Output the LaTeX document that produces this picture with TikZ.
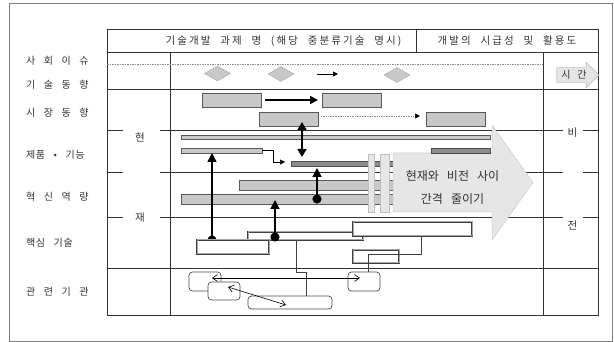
\documentclass[tikz,border=0pt]{standalone}
\usepackage{fontspec}
\setmainfont{Noto Sans CJK KR}[WordSpace=3]
\newfontfamily\hdfont{Noto Sans CJK KR}[WordSpace=2.2,LetterSpace=20]
\usepackage{tikz}
\usetikzlibrary{arrows.meta,positioning,shapes.geometric,shapes.arrows}
\definecolor{ink}{HTML}{333333}
\definecolor{barfill}{HTML}{C8C8C8}
\definecolor{bardark}{HTML}{8C8C8C}
\definecolor{arrfill}{HTML}{E6E6E6}
\pgfdeclarelayer{front}
\pgfsetlayers{main,front}

\begin{document}
\begin{tikzpicture}[x=1pt,y=-1pt,
    lbl/.style={anchor=west,text=ink,font=\fontsize{10}{12}\selectfont\addfontfeature{LetterSpace=6},inner sep=0},
    hdr/.style={text=ink,font=\fontsize{10.5}{12}\selectfont,inner sep=0},
    colhead/.style={hdr,font=\hdfont\fontsize{10.5}{12}\selectfont},
    rule/.style={draw=ink,line width=0.8pt},
    gbar/.style={draw=black!65,fill=barfill,line width=0.7pt,inner sep=0,outer sep=0},
    dbar/.style={gbar,fill=bardark,draw=black!70},
    core/.style={draw=black!75,double=black!35,double distance=1pt,line width=0.7pt,fill=white,inner sep=0,outer sep=0},
    inst/.style={draw=black!70,rounded corners=3.5pt,fill=white,line width=0.7pt,inner sep=0,outer sep=0},
    gem/.style={diamond,fill=barfill,draw=black!35,inner sep=0,minimum width=26pt,minimum height=15pt},
    arr/.style={-{Triangle[length=8pt,width=8pt]},line width=1.6pt},
    dotarr/.style={{Circle[length=9pt]}-{Triangle[length=9pt,width=9pt]},line width=1.6pt,shorten <=-4.5pt},
    lnk/.style={{Straight Barb[length=5pt,width=7pt]}-{Straight Barb[length=5pt,width=7pt]},line width=0.6pt},
    elb/.style={draw=black!75,line width=0.6pt}
]
\useasboundingbox (0,0) rectangle (614,342);

% frame and table
\draw[draw=black!50,line width=0.8pt] (9,3) rectangle (612,341);
\draw[rule] (107,29) rectangle (598,315);
\draw[rule] (107,52) -- (598,52);
\draw[rule] (416,29) -- (416,52);
\draw[rule] (170,52) -- (170,315);
\draw[rule] (543,52) -- (543,315);
\draw[draw=black!45,dash pattern=on 1.5pt off 1pt,line width=0.6pt] (107,64) -- (543,64);
\draw[rule] (107,89) -- (598,89);
\draw[rule] (107,268) -- (598,268);
\foreach \y in {130,172,217}
  \draw[rule] (107,\y) -- (123,\y) (160,\y) -- (563,\y) (583,\y) -- (598,\y);

\node[colhead] (head1) at (283.5,41) {기술개발 과제 명 (해당 중분류기술 명시)};
\node[colhead] (head2) at (507,41) {개발의 시급성 및 활용도};

\node[lbl] (issue) at (26,61) {사 회 이 슈};
\node[lbl] (trend) at (26,85) {기 술 동 향};
\node[lbl] (market) at (26,113) {시 장 동 향};
\node[lbl] (product) at (26,155) {제품 • 기능};
\node[lbl] (innov) at (26,197) {혁 신 역 량};
\node[lbl] (coretech) at (26,243) {핵심 기술};
\node[lbl] (org) at (26,292) {관 련 기 관};

\node[hdr] (hyeon) at (140,137) {현};
\node[hdr] (jae) at (140,218) {재};
\node[hdr] (bi) at (572.5,132.5) {비};
\node[hdr] (jeon) at (572.5,225) {전};

% technology trend
\node[gem] (d1) at (217.5,73.5) {};
\node[gem] (d2) at (281,74) {};
\node[gem] (d3) at (397,75) {};
\coordinate (t1) at (317,74);
\coordinate (t2) at (338,74);
\draw[-{Triangle[length=5pt,width=5pt]},line width=0.8pt] (t1) -- (t2);

\node[single arrow,draw=black!35,fill=black!10,minimum height=42pt,
      single arrow head extend=5pt,inner xsep=4pt,inner ysep=3pt,
      font=\fontsize{10}{12}\selectfont,text=ink] (time) at (574,75) {시 간};

% market
\node[gbar,minimum width=59pt,minimum height=14pt] (mA) at (231.5,100) {};
\node[gbar,minimum width=59pt,minimum height=14pt,right=61pt of mA] (mB) {};
\node[gbar,minimum width=59pt,minimum height=14pt] (mC) at (288.5,119) {};
\node[gbar,minimum width=59pt,minimum height=14pt] (mD) at (455.5,119) {};

% product / function
\node[gbar,minimum width=309pt,minimum height=4pt] (pLong) at (335.5,137) {};
\node[gbar,minimum width=81pt,minimum height=5pt] (pShort) at (221.5,150.5) {};
\node[dbar,minimum width=109pt,minimum height=5pt] (pE) at (345.5,163.5) {};

% innovation
\node[gbar,minimum width=161pt,minimum height=10pt] (iG) at (319.5,185) {};
\node[gbar,minimum width=219pt,minimum height=10pt] (iH) at (290.5,199) {};

% closing the gap
\draw[draw=black!25,fill=arrfill,line width=0.5pt] (368,154) rectangle (374,212);
\draw[draw=black!25,fill=arrfill,line width=0.5pt] (380,154) rectangle (389,212);
\draw[draw=black!20,fill=arrfill,line width=0.5pt]
  (393,153) -- (492,153) -- (492,125) -- (533,182.5) -- (492,240) -- (492,212) -- (393,212) -- cycle;
\node[dbar,minimum width=59pt,minimum height=5pt] (pF) at (460.5,150.5) {};
\node[font=\fontsize{12}{23}\selectfont,text=ink,align=center] (gap) at (452.5,187.5) {현재와 비전 사이\\간격 줄이기};

% core technology
\begin{pgfonlayer}{front}
\node[core,minimum width=72pt,minimum height=14pt] (K1) at (233,247) {};
\end{pgfonlayer}
\node[core,minimum width=115pt,minimum height=8pt] (K2) at (305.5,236) {};
\node[core,minimum width=119pt,minimum height=14pt] (K3) at (412.5,229) {};
\node[core,minimum width=46pt,minimum height=13pt] (K4) at (376,256.5) {};

% related organisations
\node[inst,minimum width=32pt,minimum height=19pt] (L1) at (205,281.5) {};
\node[inst,minimum width=32pt,minimum height=18pt] (L2) at (224,291) {};
\node[inst,minimum width=84pt,minimum height=13pt] (L3) at (290,302.5) {};
\node[inst,minimum width=32pt,minimum height=19pt] (L4) at (364,281.5) {};

\draw[elb] ([xshift=-9.5pt]K2.south) -- ++(0,32) -| ([xshift=16pt]L3.north);
\draw[elb] ([xshift=8.5pt]K3.south) -- ++(0,18) -| ([xshift=4pt]L4.north);
\draw[lnk] ([xshift=7pt,yshift=3.5pt]L1.center) -- ([xshift=-4pt,yshift=3.5pt]L4.center);
\draw[lnk] ([xshift=4pt,yshift=4pt]L2.center) -- ([xshift=-4pt,yshift=-2.5pt]L3.center);

% links between rows
\draw[arr] ([xshift=4pt]mA.east) -- ([xshift=-4pt]mB.west);
\draw[draw=black!45,densely dotted,line width=0.7pt,-{Triangle[length=5pt,width=5pt,color=black]}]
  ([xshift=3pt,yshift=3pt]mC.east) -- ([xshift=-6pt,yshift=3pt]mD.west);
\draw[{Triangle[length=8pt,width=9pt]}-{Triangle[length=8pt,width=9pt]},line width=1.6pt]
  ([xshift=13.5pt,yshift=4pt]mC.south) -- ([xshift=-43.5pt,yshift=4pt]pE.north);
\draw[elb,draw=black,-{Triangle[length=5pt,width=5pt]}] (pShort.east) -- ++(11,0) |- ([xshift=-6pt,yshift=1.5pt]pE.west);
\draw[dotarr] ([xshift=-21pt]K1.north) -- ([xshift=-9.5pt]pShort.south);
\draw[dotarr] ([xshift=-30.5pt,yshift=-1pt]K2.center) -- ([xshift=-15.5pt,yshift=4pt]iH.south);
\draw[dotarr] ([xshift=26.5pt]iH.center) -- ([xshift=-28.5pt,yshift=-2pt]pE.south);
\end{tikzpicture}
\end{document}
